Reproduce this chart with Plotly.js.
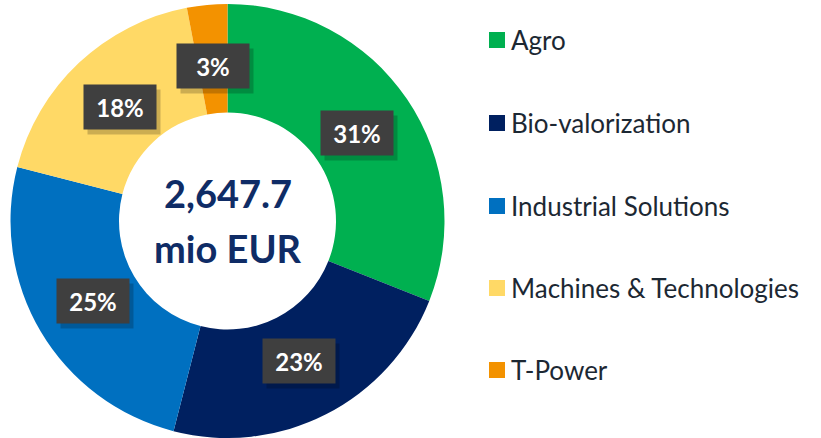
<!DOCTYPE html>
<html>
<head>
<meta charset="utf-8">
<script src="https://cdn.plot.ly/plotly-3.0.1.min.js"></script>
<style>html,body{margin:0;padding:0;background:#fff;}#chart{width:821px;height:438px;}</style>
</head>
<body>
<div id="chart"></div>
<script>
// ---- data ----
const labels = ["Agro", "Bio-valorization", "Industrial Solutions", "Machines & Technologies", "T-Power"];
const shares = [31, 23, 25, 18, 3];
const colors = ["#00b050", "#002060", "#0070c0", "#ffd966", "#f39200"];
const totalLine1 = "2,647.7";
const totalLine2 = "mio EUR";

// ---- layout constants ----
const W = 821, H = 438;
const pieX0 = 10, pieX1 = 445;           // px
const pieTop = 4;                         // px from top
const cx = (pieX0 + pieX1) / 2;
const R = (pieX1 - pieX0) / 2;
const cy = pieTop + R;
const labelR = 0.72 * R;
const FONT = "Lato, 'Open Sans', sans-serif";

const total = shares.reduce((a, b) => a + b, 0);
const annotations = [];
const shapes = [];
let cum = 0;
shares.forEach((v, i) => {
  const mid = (cum + v / 2) / total * 2 * Math.PI;
  cum += v;
  const px = cx + labelR * Math.sin(mid);
  const py = cy - labelR * Math.cos(mid);
  const txt = Math.round(v / total * 100) + "%";
  // shadow
  annotations.push({
    x: (px + 4) / W, y: 1 - (py + 5) / H, xref: "paper", yref: "paper",
    xanchor: "center", yanchor: "middle",
    text: " ", showarrow: false, width: 72, height: 44,
    bgcolor: "rgba(0,0,0,0.2)", borderpad: 0
  });
  annotations.push({
    x: px / W, y: 1 - py / H, xref: "paper", yref: "paper",
    xanchor: "center", yanchor: "middle",
    text: "<b>" + txt + "</b>", showarrow: false, width: 72, height: 44,
    bgcolor: "#3f3f3f", borderpad: 0,
    font: {family: FONT, size: 24, color: "#ffffff"}
  });
});

// center text
annotations.push({
  x: cx / W, y: 1 - 193 / H, xref: "paper", yref: "paper", showarrow: false,
  xanchor: "center", yanchor: "middle",
  text: "<b>" + totalLine1 + "</b>",
  font: {family: FONT, size: 38, color: "#0f2c66"}
});
annotations.push({
  x: cx / W, y: 1 - 248 / H, xref: "paper", yref: "paper", showarrow: false,
  xanchor: "center", yanchor: "middle",
  text: "<b>" + totalLine2 + "</b>",
  font: {family: FONT, size: 38, color: "#0f2c66"}
});

// legend (manual)
const legY = [40, 123, 206, 288, 370];
labels.forEach((lab, i) => {
  const y = legY[i];
  shapes.push({
    type: "rect", xref: "paper", yref: "paper",
    x0: 489 / W, x1: 505 / W, y0: 1 - (y + 8) / H, y1: 1 - (y - 8) / H,
    fillcolor: colors[i], line: {width: 0}
  });
  annotations.push({
    x: 509 / W, y: 1 - y / H, xref: "paper", yref: "paper", xanchor: "left", yanchor: "middle",
    showarrow: false, text: lab,
    font: {family: FONT, size: 26, color: "#1c2833"}
  });
});

const trace = {
  type: "pie",
  labels: labels,
  values: shares,
  hole: 0.5,
  sort: false,
  direction: "clockwise",
  rotation: 0,
  marker: {colors: colors, line: {width: 0}},
  textinfo: "none",
  hoverinfo: "label+percent",
  showlegend: false,
  domain: {x: [pieX0 / W, pieX1 / W], y: [1 - (pieTop + 2 * R) / H, 1 - pieTop / H]}
};

const layout = {
  width: W, height: H,
  margin: {l: 0, r: 0, t: 0, b: 0},
  paper_bgcolor: "#ffffff",
  showlegend: false,
  annotations: annotations,
  shapes: shapes
};

Plotly.newPlot("chart", [trace], layout, {displayModeBar: false, staticPlot: true});
</script>
</body>
</html>
